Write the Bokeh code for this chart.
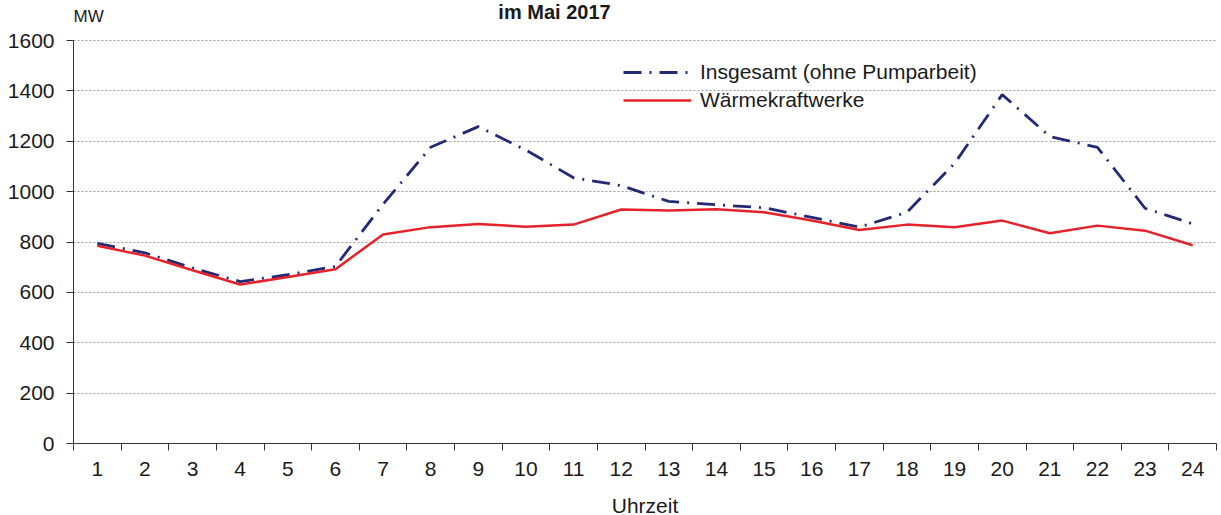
from bokeh.plotting import figure
from bokeh.models import (ColumnDataSource, FixedTicker, Legend, LegendItem, Label, Range1d)
from bokeh.embed import file_html
from bokeh.resources import INLINE

# ---- data ----
hours = list(range(1, 25))
insgesamt = [795, 757, 697, 643, 670, 703, 950, 1176, 1258, 1165, 1055, 1024,
             961, 948, 936, 898, 859, 918, 1112, 1385, 1219, 1176, 934, 872]
waerme = [785, 746, 688, 631, 661, 692, 830, 859, 871, 861, 869, 929,
          925, 930, 918, 885, 848, 869, 859, 885, 835, 865, 845, 787]
y_ticks = [0, 200, 400, 600, 800, 1000, 1200, 1400, 1600]
series_names = ["Insgesamt (ohne Pumparbeit)", "Wärmekraftwerke"]
title_text = "im Mai 2017"
unit_text = "MW"
x_label = "Uhrzeit"

FONT = "Liberation Sans"
TXT = "#1a1a1a"
NAVY = "#232a75"
RED = "#e5222a"

FRAME_W = 1143
FRAME_H = 443
PX_PER_MW = 403 / 1600.0
Y_TOP = FRAME_H / PX_PER_MW  # headroom above 1600 for title area

src = ColumnDataSource(dict(x=hours, ins=insgesamt, wk=waerme))

p = figure(frame_width=FRAME_W, frame_height=FRAME_H,
           x_range=Range1d(0.5, 24.5), y_range=Range1d(0, Y_TOP),
           output_backend="svg", toolbar_location=None,
           min_border_left=73, min_border_top=0, min_border_right=5,
           min_border_bottom=72)
p.outline_line_color = None
p.background_fill_color = "white"
p.border_fill_color = "white"

# axes
xa = p.xaxis[0]
xa.ticker = FixedTicker(ticks=hours, minor_ticks=[h - 0.5 for h in hours] + [24.5])
xa.major_tick_out = 0
xa.major_tick_in = 0
xa.minor_tick_out = 7
xa.minor_tick_in = 0
xa.minor_tick_line_color = "#333333"
xa.axis_line_color = "#333333"
xa.major_label_text_font = FONT
xa.major_label_text_font_size = "21px"
xa.major_label_text_color = TXT
xa.major_label_standoff = 11
xa.axis_label = x_label
xa.axis_label_text_font = FONT
xa.axis_label_text_font_size = "21px"
xa.axis_label_text_font_style = "normal"
xa.axis_label_text_color = TXT
xa.axis_label_standoff = 15

ya = p.yaxis[0]
ya.ticker = FixedTicker(ticks=y_ticks)
ya.bounds = (0, 1600)
ya.minor_tick_line_color = None
ya.major_tick_out = 7
ya.major_tick_in = 0
ya.major_tick_line_color = "#333333"
ya.axis_line_color = "#333333"
ya.major_label_text_font = FONT
ya.major_label_text_font_size = "21px"
ya.major_label_text_color = TXT
ya.major_label_standoff = 12

p.xgrid.grid_line_color = None
p.ygrid.ticker = FixedTicker(ticks=y_ticks[1:])
p.ygrid.grid_line_color = "#9a9a9a"
p.ygrid.grid_line_dash = "2 2"
p.ygrid.grid_line_width = 1

# lines
r_ins = p.line("x", "ins", source=src, line_color=NAVY, line_width=2.8,
               line_dash="18 8 2 8")
r_wk = p.line("x", "wk", source=src, line_color=RED, line_width=2.5)

legend = Legend(items=[LegendItem(label=series_names[0], renderers=[r_ins]),
                       LegendItem(label=series_names[1], renderers=[r_wk])],
                location=(550, 329), orientation="vertical",
                glyph_width=68, glyph_height=28, label_height=28,
                label_standoff=9, spacing=0, padding=0, margin=0,
                border_line_color=None, background_fill_alpha=0,
                label_text_font=FONT, label_text_font_size="21px",
                label_text_color=TXT)
p.add_layout(legend, "center")

p.add_layout(Label(x=0, y=FRAME_H - 6, x_units="screen", y_units="screen", text=unit_text,
                   text_font=FONT, text_font_size="17px", text_color=TXT,
                   text_baseline="top", text_align="left"))
p.add_layout(Label(x=481, y=FRAME_H, x_units="screen", y_units="screen", text=title_text,
                   text_font=FONT, text_font_size="20px", text_font_style="bold",
                   text_color=TXT, text_baseline="top", text_align="center"))

open("out.html", "w").write(file_html(p, INLINE))
